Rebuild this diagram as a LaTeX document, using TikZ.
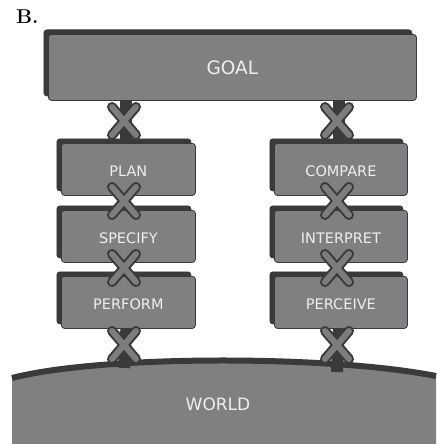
\documentclass[tikz,border=0pt]{standalone}
\usepackage{fontspec}
\setsansfont{DejaVu Sans}
\usetikzlibrary{shadows}
\definecolor{facegray}{RGB}{128,128,131}
\definecolor{darkedge}{RGB}{58,58,60}
\definecolor{labelcol}{RGB}{238,238,238}
\definecolor{xgray}{RGB}{125,125,128}
\tikzset{
  box/.style={draw=darkedge, line width=0.8pt, fill=facegray, rounded corners=3pt,
    inner sep=0pt, anchor=north west,
    general shadow={shadow xshift=-4.5pt, shadow yshift=4.5pt, fill=darkedge, draw=darkedge}},
  lbl/.style={text=labelcol, font=\sffamily\fontsize{14.5}{14.5}\selectfont},
  biglbl/.style={text=labelcol, font=\sffamily\fontsize{18.5}{18.5}\selectfont},
  bar/.style={draw=darkedge, line width=12pt},
  xmark/.pic={
    \draw[draw=darkedge, line width=10pt, line cap=round] (-12,-14) -- (12,14) (-12,14) -- (12,-14);
    \draw[draw=xgray, line width=6pt, line cap=round] (-12,-14) -- (12,14) (-12,14) -- (12,-14);
  }
}
\begin{document}
\begin{tikzpicture}[x=1pt, y=-1pt]
\fill[white] (0,0) rectangle (436,444);
\useasboundingbox (0,0) rectangle (436,444);
\node[anchor=west, inner sep=0pt, font=\bfseries\fontsize{20}{20}\selectfont] (blabel) at (16,17) {B.};
% world
\fill[facegray] (12,378) .. controls (100,355) and (330,355) .. (436,376) -- (436,444) -- (12,444) -- cycle;
\draw[darkedge, line width=6pt] (12,378) .. controls (100,355) and (330,355) .. (436,376);
\coordinate (wl) at (126,368);
\coordinate (wr) at (339,372);
% boxes
\node[box, minimum width=368pt, minimum height=66pt] (goal) at (48,34) {};
\node[box, minimum width=134pt, minimum height=52pt] (plan) at (61,143) {};
\node[box, minimum width=134pt, minimum height=52pt] (specify) at (61,210) {};
\node[box, minimum width=134pt, minimum height=52pt] (perform) at (61,276) {};
\node[box, minimum width=133pt, minimum height=52pt] (compare) at (274,143) {};
\node[box, minimum width=133pt, minimum height=52pt] (interpret) at (274,210) {};
\node[box, minimum width=133pt, minimum height=52pt] (perceive) at (274,276) {};
% connector bars
\draw[bar] ([xshift=-2pt]plan.north) -- ([xshift=-2pt]plan.north |- goal.south);
\draw[bar] ([xshift=-2pt]compare.north) -- ([xshift=-2pt]compare.north |- goal.south);
\draw[bar] ([xshift=-2pt]perform.south) -- ([xshift=-2pt]wl);
\draw[bar] ([xshift=-2pt]perceive.south) -- ([xshift=-2pt]wr);
% labels
\node[biglbl] (goaltxt) at (goal.center) {GOAL};
\node[lbl] (plantxt) at ([yshift=-2pt]plan.center) {PLAN};
\node[lbl] (specifytxt) at ([yshift=-2pt]specify.center) {SPECIFY};
\node[lbl] (performtxt) at ([yshift=-2pt]perform.center) {PERFORM};
\node[lbl] (comparetxt) at ([yshift=-2pt]compare.center) {COMPARE};
\node[lbl] (interprettxt) at ([yshift=-2pt]interpret.center) {INTERPRET};
\node[lbl] (perceivetxt) at ([yshift=-2pt]perceive.center) {PERCEIVE};
\node[biglbl, font=\sffamily\fontsize{17}{17}\selectfont] (worldtxt) at (218,404) {WORLD};
% crosses
\pic at (124,121) {xmark};
\pic at (124,201) {xmark};
\pic at (124,268) {xmark};
\pic at (124,345) {xmark};
\pic at (337,121) {xmark};
\pic at (337,201) {xmark};
\pic at (337,268) {xmark};
\pic at (337,345) {xmark};
\end{tikzpicture}
\end{document}
